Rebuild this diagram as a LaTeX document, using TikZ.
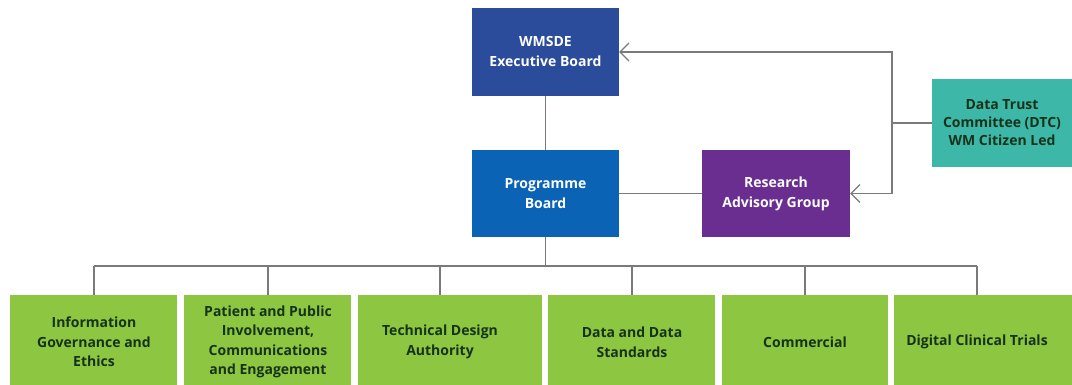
\documentclass[tikz,border=0pt]{standalone}
\usepackage{fontspec}
\setmainfont{Open Sans}
\usetikzlibrary{arrows.meta}
\definecolor{execblue}{HTML}{2A4C9A}
\definecolor{progblue}{HTML}{0B63B5}
\definecolor{ragpurple}{HTML}{6A2E90}
\definecolor{dtcteal}{HTML}{3DB7A8}
\definecolor{boxgreen}{HTML}{8DC640}
\definecolor{darktxt}{HTML}{16331A}
\definecolor{linegrey}{HTML}{7A7A7A}
\tikzset{
  topbox/.style={draw=none, minimum width=147pt, minimum height=88pt, inner sep=2pt,
    align=center, text=white, font=\fontsize{14}{20}\selectfont\bfseries},
  greenbox/.style={fill=boxgreen, draw=none},
  greentxt/.style={align=center, text=darktxt, font=\fontsize{14}{19.5}\selectfont\bfseries, inner sep=0pt},
  conn/.style={draw=linegrey, line width=1.2pt},
  arr/.style={conn, -{Straight Barb[length=9pt,width=18pt,line width=1.1pt]}},
}
\begin{document}
\begin{tikzpicture}[x=1pt,y=-1pt]
\useasboundingbox (0,0) rectangle (1072,385);
\fill[white] (0,0) rectangle (1072,385);
% top boxes
\node[topbox, fill=execblue] (exec) at (545.5,52) {WMSDE\\Executive Board};
\node[topbox, fill=progblue, minimum height=87pt] (prog) at (545.5,193.5) {Programme\\Board};
\node[topbox, fill=ragpurple, minimum width=148pt, minimum height=87pt] (rag) at (776,193.5) {Research\\Advisory Group};
\node[topbox, fill=dtcteal, minimum width=140pt, text=darktxt, font=\fontsize{14}{18}\selectfont\bfseries] (dtc) at (1002,123) {Data Trust\\Committee (DTC)\\WM Citizen Led};
% green boxes
\node[greenbox, minimum width=167pt, minimum height=94pt, inner sep=0pt] (b1) at (93.5,342) {};
\node[greenbox, minimum width=167pt, minimum height=94pt, inner sep=0pt] (b2) at (267.5,342) {};
\node[greenbox, minimum width=184pt, minimum height=94pt, inner sep=0pt] (b3) at (450,342) {};
\node[greenbox, minimum width=167pt, minimum height=94pt, inner sep=0pt] (b4) at (631.5,342) {};
\node[greenbox, minimum width=166pt, minimum height=94pt, inner sep=0pt] (b5) at (805,342) {};
\node[greenbox, minimum width=178pt, minimum height=94pt, inner sep=0pt] (b6) at (983,342) {};
\node[greentxt] (t1) at (94,342) {Information\\Governance and\\Ethics};
\node[greentxt] (t2) at (268,342) {Patient and Public\\Involvement,\\Communications\\and Engagement};
\node[greentxt] (t3) at (440,342) {Technical Design\\Authority};
\node[greentxt] (t4) at (632,342) {Data and Data\\Standards};
\node[greentxt] (t5) at (805,342) {Commercial};
\node[greentxt] (t6) at (977,342) {Digital Clinical Trials};
% connectors
\coordinate (bus) at (545.5,266);
\coordinate (rail) at (892,123);
\draw[conn] (exec) -- (prog);
\draw[conn] (prog) -- (rag);
\draw[conn] (prog) -- (bus);
\draw[conn] (bus -| t1) -- (bus -| t6);
\foreach \i in {1,...,6} {\draw[conn] (bus -| t\i) -- (t\i |- b\i.north);}
\draw[conn] (dtc.west) -- (rail);
\draw[arr] (rail) |- (exec.east);
\draw[arr] (rail) |- (rag.east);
\end{tikzpicture}
\end{document}
